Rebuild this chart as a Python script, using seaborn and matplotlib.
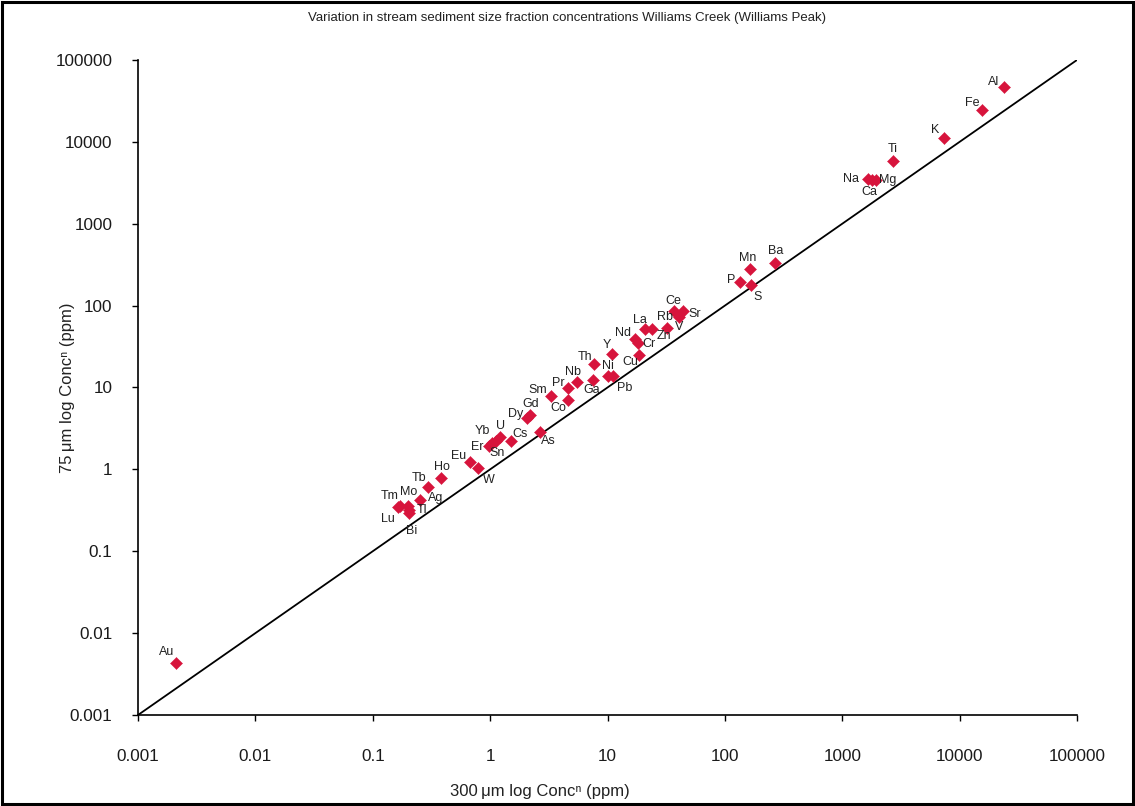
import matplotlib
matplotlib.use("Agg")
import matplotlib.pyplot as plt
import matplotlib.patches as mpatches
import numpy as np
import pandas as pd
import seaborn as sns

# Element concentrations (ppm) in the two size fractions
elements = ["Au", "Tm", "Lu", "Mo", "Tl", "Bi", "Ag", "Tb", "Ho", "Eu", "W",
            "Er", "Sn", "Yb", "U", "Cs", "As", "Dy", "Gd", "Sm", "Co", "Pr",
            "Nb", "Ga", "Th", "Ni", "Pb", "Y", "Cu", "Nd", "Cr", "La", "Zn",
            "Rb", "Ce", "Sr", "V", "Mn", "Ba", "P", "S", "Na", "Ca", "Mg",
            "Ti", "K", "Fe", "Al"]
conc_300um = [0.0021, 0.163, 0.171, 0.201, 0.205, 0.204, 0.253, 0.294, 0.382,
              0.674, 0.784, 0.97, 1.04, 1.12, 1.21, 1.51, 2.66, 2.07, 2.19,
              3.30, 4.58, 4.58, 5.47, 7.57, 7.72, 10.0, 11.2, 10.9, 18.7,
              17.2, 18.3, 20.9, 23.8, 31.9, 37.1, 44.2, 40.9, 164, 267, 134.5,
              166, 1660, 1790, 1940, 2690, 7360, 15600, 24000]
conc_75um = [0.0043, 0.344, 0.360, 0.360, 0.319, 0.291, 0.423, 0.614, 0.778,
             1.22, 1.03, 1.93, 2.07, 2.25, 2.49, 2.25, 2.90, 4.21, 4.61,
             7.87, 7.04, 9.94, 11.8, 12.3, 19.4, 13.8, 13.8, 25.3, 24.9,
             38.6, 34.7, 51.4, 51.4, 53.8, 86.0, 86.0, 72.0, 280, 329, 196,
             179, 3520, 3420, 3420, 5890, 11060, 24500, 47200]
# label offsets from each marker, in points (x right, y up)
label_dx = [-6.5, -6, -9, 0.5, 9, 2, 11.5, -6.5, 0.5, -8, 8,
            -8, 3.5, -9.5, 0.5, 6.5, 6, -8.5, 0.5, -9.5, -6.5, -6.5,
            -3, -1.5, -6.5, 0, 8.5, -3.5, -6.5, -8.5, 8, -3.5, 8.5,
            -1.5, -0.5, 8.5, 0, -2, 0.5, -6.5, 5, -12, -2, 8.5,
            0, -6.5, -7, -8]
label_dy = [8, 8, -9.5, 9.5, 0, -13, 1.5, 6, 8, 4.5, -8.5,
            -0.5, -7, 6.5, 8, 4.5, -7, 3, 8, 4.5, -6, 3.5,
            7, -7, 5, 7, -8.5, 7, -5, 5, -0.5, 7, -5,
            8, 7, -2, -7, 8, 8.5, 1.5, -8.5, 0, -8.5, 0,
            8.5, 6, 5, 3]

tick_values = [0.001, 0.01, 0.1, 1, 10, 100, 1000, 10000, 100000]
tick_labels = ["0.001", "0.01", "0.1", "1", "10", "100", "1000", "10000", "100000"]
one_to_one = [0.001, 100000]

df = pd.DataFrame({"element": elements, "c300": conc_300um, "c75": conc_75um})

sns.set_theme(style="white")
plt.rcParams["font.family"] = ["Liberation Sans", "DejaVu Sans"]

fig = plt.figure(figsize=(11.35, 8.06), dpi=100)
ax = fig.add_axes([0.1216, 0.1129, 0.8273, 0.8127])

# 1:1 reference line
sns.lineplot(x=one_to_one, y=one_to_one, ax=ax, color="black", linewidth=1.3,
             zorder=2)

sns.scatterplot(data=df, x="c300", y="c75", ax=ax, marker="D", s=38,
                color="#d7143c", edgecolor="#d7143c", linewidth=0.3, zorder=3)

for name, xv, yv, dx, dy in zip(elements, conc_300um, conc_75um, label_dx, label_dy):
    ax.annotate(name, (xv, yv), xytext=(dx, dy), textcoords="offset points",
                ha="center", va="center", fontsize=9, color="#222222",
                zorder=4)

ax.set_xscale("log")
ax.set_yscale("log")
ax.set_xlim(0.001, 100000)
ax.set_ylim(0.001, 100000)
ax.set_xticks(tick_values)
ax.set_xticklabels(tick_labels)
ax.set_yticks(tick_values)
ax.set_yticklabels(tick_labels)
ax.minorticks_off()

for side in ("top", "right"):
    ax.spines[side].set_visible(False)
for side in ("left", "bottom"):
    ax.spines[side].set_color("black")
    ax.spines[side].set_linewidth(1.2)

ax.tick_params(axis="x", which="major", direction="out", length=4.5, width=1,
               color="black", labelsize=12.3, pad=20, labelcolor="#1a1a1a",
               bottom=True)
ax.tick_params(axis="y", which="major", direction="out", length=4.5, width=1,
               color="black", labelsize=12.3, pad=14, labelcolor="#1a1a1a",
               left=True)

ax.set_xlabel("300\u2009\u03bcm log Conc\u207f (ppm)", fontsize=12, color="#222222")
ax.set_ylabel("75\u2009\u03bcm log Conc\u207f (ppm)", fontsize=12, color="#222222")
ax.xaxis.set_label_coords(0.428, -0.105)
ax.yaxis.set_label_coords(-0.067, 0.5)

fig.text(0.5, 0.978, "Variation in stream sediment size fraction concentrations Williams Creek (Williams Peak)",
         ha="center", va="center", fontsize=9.5, color="#222222")

# frame around the whole figure
fig.patches.append(mpatches.Rectangle((0.002, 0.003), 0.996, 0.994,
                                      transform=fig.transFigure, fill=False,
                                      edgecolor="black", linewidth=2.2))

fig.savefig("out.png", dpi=100, facecolor="white")
